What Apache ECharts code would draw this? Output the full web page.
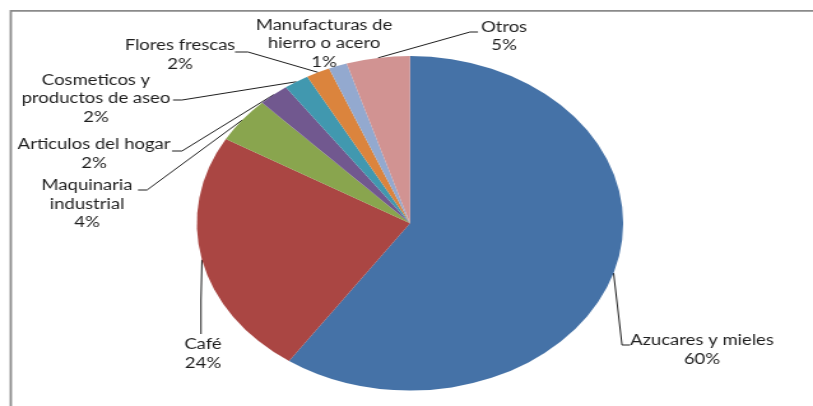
<!DOCTYPE html>
<html>
<head>
<meta charset="utf-8">
<script src="https://cdn.jsdelivr.net/npm/echarts@6/dist/echarts.min.js"></script>
<style>
  html, body { margin: 0; padding: 0; background: #fff; overflow: hidden; }
  #wrap { width: 813px; height: 406px; overflow: hidden; }
  /* the chart is laid out narrower and widened, giving the oval pie */
  #chart { width: 638px; height: 406px; transform: scaleX(1.274295); transform-origin: 0 0; }
</style>
</head>
<body>
<div id="wrap"><div id="chart"></div></div>
<script>
// Export shares by product (%)
const categories = [
  'Azucares y mieles',
  'Café',
  'Maquinaria\nindustrial',
  'Articulos del hogar',
  'Cosmeticos y\nproductos de aseo',
  'Flores frescas',
  'Manufacturas de\nhierro o acero',
  'Otros'
];
const shares = [59.6, 23.8, 4.4, 2.3, 1.9, 1.8, 1.4, 4.8];
const sliceColors = ['#4572A7', '#AA4643', '#89A54E', '#71588F', '#4198AF', '#DB843D', '#93A9CF', '#D19392'];

// horizontal stretch applied to the chart box
const SX = 813 / 638;

// label centre, leader bend and leader end, in page pixels
const placement = [
  { c: [702, 350], bend: [622, 345], end: [630, 345] },
  { c: [203, 354], bend: [201, 300], end: [201, 334] },
  { c: [87, 204],  bend: [147, 190], end: [138, 190] },
  { c: [94, 154],  bend: [182, 151], end: [172, 151] },
  { c: [96, 98.5], bend: [182, 100], end: [173, 100] },
  { c: [180, 55],  bend: [248, 52],  end: [235, 52] },
  { c: [324, 43.5] },
  { c: [504, 36.5], bend: [470, 32], end: [478, 32] }
];

const chart = echarts.init(document.getElementById('chart'), null, { renderer: 'canvas' });

chart.setOption({
  animation: false,
  backgroundColor: '#fff',
  color: sliceColors,
  graphic: [{
    type: 'rect',
    shape: { x: 10.8 / SX, y: 10.8, width: 800, height: 600 },
    style: { fill: 'none', stroke: '#8a8a8a', lineWidth: 1.8 },
    silent: true
  }],
  series: [{
    type: 'pie',
    center: [410 / SX, 223.3],
    radius: 167.3,
    startAngle: 90,
    clockwise: true,
    avoidLabelOverlap: false,
    percentPrecision: 0,
    itemStyle: { borderWidth: 0 },
    label: {
      show: true,
      position: 'outside',
      formatter: '{b}\n{d}%',
      fontFamily: 'Lato',
      fontSize: 14.5,
      lineHeight: 18.5,
      color: '#1e1e1e',
      align: 'center'
    },
    labelLine: {
      show: true,
      length: 10,
      length2: 8,
      lineStyle: { color: '#1f1f1f', width: 1 }
    },
    labelLayout: function (p) {
      const pl = placement[p.dataIndex];
      const out = { x: pl.c[0] / SX, y: pl.c[1], align: 'center', verticalAlign: 'middle' };
      if (pl.end && p.labelLinePoints) {
        out.labelLinePoints = [
          p.labelLinePoints[0],
          [pl.bend[0] / SX, pl.bend[1]],
          [pl.end[0] / SX, pl.end[1]]
        ];
      }
      return out;
    },
    data: categories.map(function (name, i) {
      const item = { name: name, value: shares[i] };
      if (!placement[i].end) item.labelLine = { show: false };
      return item;
    })
  }]
});
</script>
</body>
</html>
